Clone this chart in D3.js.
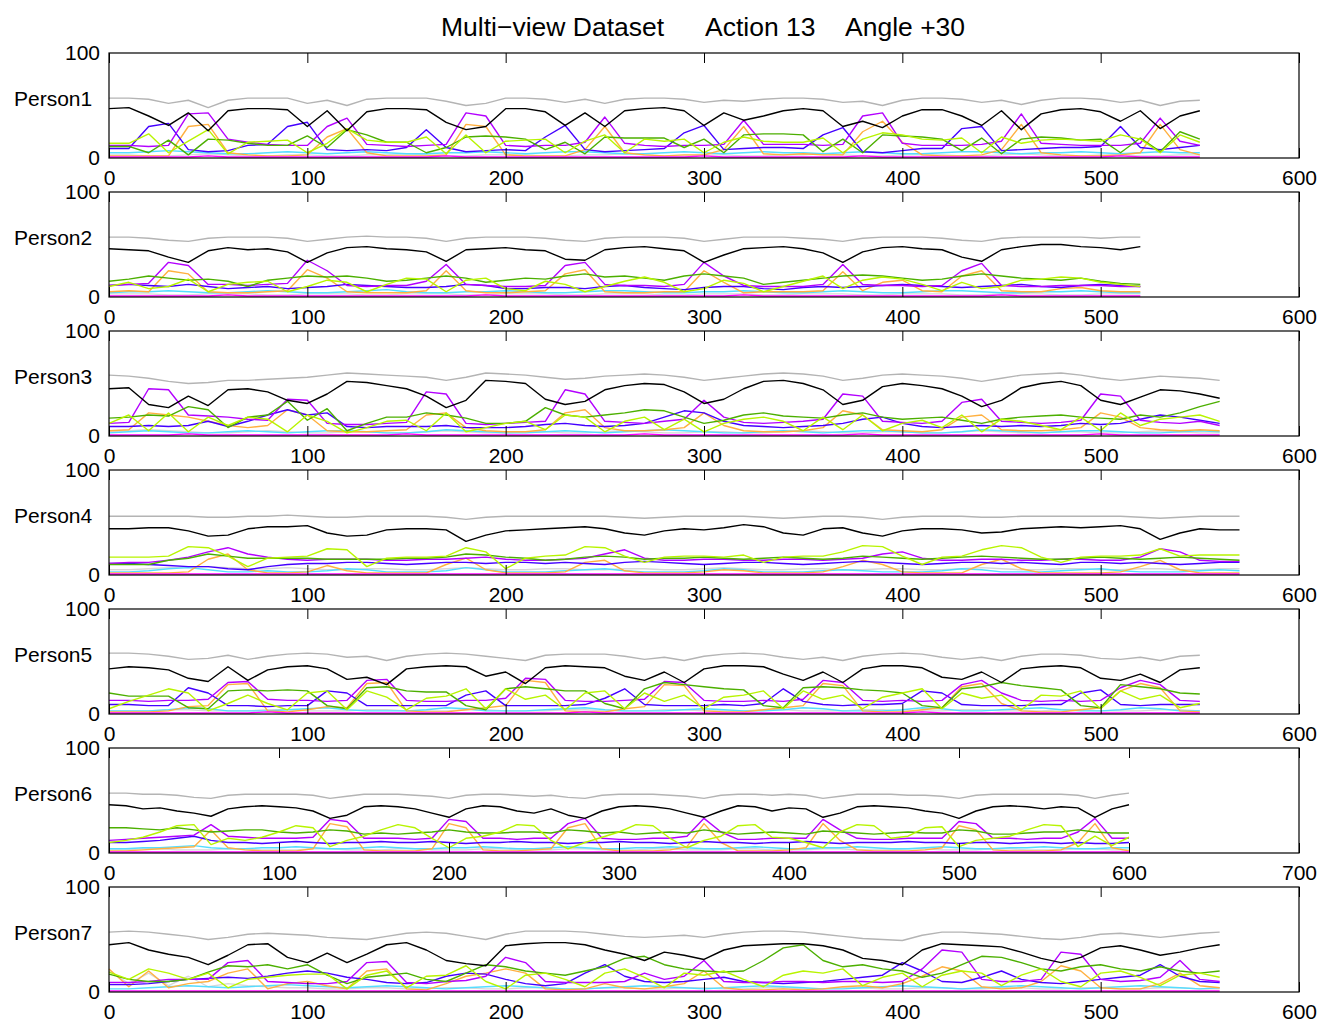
<!DOCTYPE html>
<html lang="en">
<head>
<meta charset="utf-8">
<title>Multi-view Dataset Action 13 Angle +30</title>
<script src="https://cdn.jsdelivr.net/npm/d3@7"></script>
<style>
  body { margin: 0; background: #fff; }
  svg { display: block; }
  text { font-family: "Liberation Sans", Arial, Helvetica, sans-serif; fill: #000; }
  .tick text { font-size: 21px; }
  .tick line { stroke: #000; }
</style>
</head>
<body>
<script>
// ---------- data (one row per person, one value every 10 frames) ----------
const persons = ["Person1", "Person2", "Person3", "Person4", "Person5", "Person6", "Person7"];
const xMax = [600, 600, 600, 600, 600, 700, 600];
const yTicks = [0, 100];
const frameStep = 10;
const titleParts = ["Multi\u2212view Dataset", "Action 13", "Angle +30"];

const grayLine = [
  [57,57,56,52,55,48,55,57,57,57,52,55,50,56,57,57,57,54,50,52,57,57,56,53,56,52,56,57,57,56,53,55,54,56,57,57,56,53,54,50,55,57,57,56,53,55,51,55,57,57,56,53,55,50,54,55],
  [57,57,56,54,53,56,57,57,57,56,53,55,57,58,57,57,56,53,56,57,57,57,56,54,53,56,57,57,57,56,53,55,57,57,57,56,55,53,56,57,57,57,56,54,53,56,57,57,57,57,56,57,57],
  [58,57,55,52,50,51,53,53,54,55,56,58,60,59,58,57,56,53,56,60,59,58,56,54,55,57,58,59,58,56,53,55,57,59,60,59,57,53,55,58,59,58,57,55,52,55,58,59,60,58,55,53,55,57,56,55,53],
  [56,56,56,56,56,55,55,56,56,57,56,55,55,56,56,56,56,55,53,55,56,56,56,56,56,56,55,54,55,56,56,56,56,55,54,55,56,56,55,53,55,56,56,56,55,55,56,56,56,56,56,56,55,54,55,56,56,56],
  [58,58,57,55,52,53,56,52,55,57,58,57,54,55,51,55,57,58,57,55,53,51,56,57,57,57,55,52,54,51,55,57,58,57,54,52,54,51,55,57,58,57,54,52,54,51,55,57,57,56,53,52,54,51,55,56],
  [57,57,56,56,55,53,52,55,56,56,56,56,55,52,54,56,56,56,55,54,52,55,56,56,55,54,55,53,52,55,56,56,56,55,54,52,55,56,56,55,56,55,52,54,56,56,56,55,55,54,52,55,56,56,56,56,56,55,52,55,57],
  [57,58,57,55,53,50,52,55,56,55,54,52,51,50,53,56,57,56,53,50,55,58,58,58,57,55,53,52,53,54,52,55,57,58,58,57,55,53,51,50,49,54,57,57,56,55,53,51,50,52,55,56,54,52,54,56,57]
];

const blackLine = [
  [47,48,40,31,43,26,45,47,47,46,30,45,26,44,47,47,46,34,27,30,47,47,44,31,43,30,45,47,48,45,31,43,36,40,45,47,45,30,35,29,40,46,46,40,31,45,27,42,46,47,44,35,45,28,40,45],
  [46,45,44,38,33,44,47,45,46,43,33,42,47,48,46,45,43,34,45,46,47,45,44,36,35,45,47,48,46,44,33,40,46,47,48,46,42,33,43,47,48,46,45,38,34,45,48,50,50,48,47,45,48],
  [45,46,30,27,38,29,44,45,42,34,31,40,52,51,48,45,38,27,34,53,52,50,35,30,33,44,48,50,49,42,31,35,45,52,53,50,44,30,34,47,50,48,45,38,28,34,46,50,52,48,34,30,37,44,43,40,36],
  [44,44,45,45,42,37,38,44,46,46,47,40,37,38,43,44,44,43,32,38,42,43,44,45,46,44,40,38,42,44,43,45,48,46,40,38,44,45,40,37,42,44,44,43,40,41,44,45,46,45,46,47,44,34,40,44,43,43],
  [43,45,44,42,34,31,45,32,42,45,46,43,33,35,28,43,45,46,45,36,40,29,44,46,45,44,36,32,40,30,43,46,46,45,38,32,40,30,43,46,46,44,35,33,40,30,43,45,46,44,34,32,38,30,42,44],
  [46,45,42,43,40,38,35,42,44,45,44,43,40,33,36,44,45,44,42,38,34,42,45,44,40,38,42,36,33,40,44,45,44,42,38,34,40,45,44,40,43,42,34,38,44,45,44,43,40,38,33,40,44,45,44,42,44,43,34,42,46],
  [45,47,40,36,33,26,35,45,46,33,28,37,28,36,45,47,40,30,27,25,44,46,47,47,45,40,36,30,38,35,31,40,44,45,46,46,44,40,32,30,26,40,46,45,44,43,38,32,28,33,42,44,40,35,38,42,45]
];

const purpleLine = [
  [12,12,11,12,42,43,18,15,13,12,12,30,38,13,12,11,12,13,43,40,12,11,12,12,15,39,14,12,11,12,12,13,36,13,13,13,12,13,40,43,14,12,12,12,13,16,42,14,13,12,12,12,14,38,16,12],
  [11,12,13,33,30,12,12,11,12,13,35,25,11,10,11,11,15,31,12,11,10,10,11,30,33,12,11,11,10,12,33,20,11,10,10,10,12,31,12,11,11,10,11,25,32,11,10,10,11,11,11,10,10],
  [12,13,45,44,20,19,18,16,15,35,34,12,11,11,12,13,42,40,12,11,12,13,14,44,40,14,13,12,14,16,34,18,13,12,13,14,16,40,38,14,13,12,14,32,35,14,13,12,13,15,40,38,15,13,12,14,10],
  [11,12,12,14,17,22,26,20,17,15,14,15,15,15,14,14,15,15,16,17,15,14,14,15,16,20,24,16,14,14,15,15,14,14,15,15,14,15,16,20,22,16,14,14,15,15,14,14,15,15,14,14,17,25,22,14,13,13],
  [13,13,12,13,13,14,30,31,14,13,13,12,13,32,33,13,12,12,13,13,15,34,33,13,12,12,13,14,31,30,13,12,12,13,12,14,32,30,13,12,13,12,13,28,32,20,13,12,13,12,13,25,32,28,13,12],
  [12,13,14,15,16,17,27,16,15,14,14,14,15,32,30,14,14,14,13,14,32,30,14,14,13,14,14,28,33,14,13,13,14,14,16,33,20,13,13,14,14,14,32,22,14,13,13,14,14,14,30,28,14,14,13,14,14,20,33,14,14],
  [9,9,10,12,12,12,28,30,10,9,8,8,10,28,29,9,8,10,11,15,33,28,10,9,9,9,10,18,12,15,30,10,9,9,10,10,9,10,10,9,10,22,40,38,12,10,10,12,38,36,12,10,11,14,30,12,10]
];

const blueLine = [
  [9,9,30,33,8,6,7,12,13,30,34,8,7,8,7,10,27,10,6,7,8,7,20,31,8,6,7,8,9,24,31,8,9,10,10,9,22,29,6,5,7,9,9,28,30,7,8,9,10,10,11,30,10,8,10,12],
  [11,12,11,10,12,10,8,9,10,8,9,10,12,11,10,9,9,10,12,11,8,8,9,9,8,10,11,9,8,7,9,10,10,8,7,9,10,9,10,11,12,11,10,9,10,11,12,10,9,11,12,11,10],
  [9,9,10,9,10,14,9,14,20,25,20,22,9,8,9,9,9,10,8,8,8,9,11,12,10,9,10,12,18,24,22,14,10,9,8,9,10,12,16,18,12,9,8,9,10,9,10,9,10,12,11,12,16,20,18,15,12],
  [11,11,10,9,8,8,6,5,8,10,11,11,12,12,11,10,11,12,12,11,12,12,11,12,11,10,12,13,12,11,10,11,12,12,11,10,11,12,13,12,11,10,11,12,12,11,12,11,10,12,12,11,12,11,10,11,12,12],
  [9,9,8,8,25,20,8,8,7,8,8,22,20,8,8,8,8,8,18,22,8,8,8,8,9,15,24,9,8,8,8,9,8,10,24,12,9,8,9,9,10,22,20,9,8,8,8,9,9,20,23,9,8,9,9,9],
  [10,10,11,12,14,16,12,10,10,9,10,11,10,9,10,10,11,10,10,11,10,9,10,10,11,10,10,9,10,10,11,10,10,9,10,11,10,10,9,10,10,11,10,9,10,10,10,11,10,10,9,10,10,9,10,10,9,10,9,9,10],
  [7,7,8,10,12,13,14,13,15,18,20,18,14,12,9,8,9,15,18,17,12,8,6,8,18,26,15,10,9,10,12,14,10,9,8,9,10,12,14,16,28,20,10,9,14,20,12,9,8,10,12,14,16,26,15,10,9]
];

const orangeLine = [
  [2,2,2,2,30,32,5,3,2,2,3,20,28,5,2,2,2,3,32,30,3,2,2,2,8,30,5,3,2,3,3,8,30,4,3,4,3,3,25,35,15,3,2,2,3,8,32,5,3,2,2,3,5,32,8,3],
  [5,6,5,25,22,5,4,4,5,6,26,18,5,4,4,4,6,25,6,4,4,5,6,22,26,5,4,4,5,5,25,14,4,5,5,5,6,24,6,14,16,6,5,20,25,6,5,5,8,9,6,5,5],
  [5,6,22,20,18,14,10,8,10,25,20,5,4,4,5,6,20,22,8,5,4,4,6,22,25,8,5,5,6,8,22,10,5,4,4,5,8,24,20,6,5,4,6,18,20,6,5,5,6,8,22,18,8,6,5,6,5],
  [2,2,2,2,3,15,20,5,2,2,3,9,4,2,2,2,2,10,16,5,2,2,2,3,12,14,4,2,2,2,3,5,4,2,2,2,3,8,14,10,3,2,2,2,10,15,6,2,2,2,2,3,8,14,5,2,2,2],
  [2,2,2,3,7,8,28,29,3,2,4,7,6,29,30,3,2,2,4,6,8,32,30,3,2,2,5,7,28,27,3,2,2,4,6,8,29,27,3,2,2,4,6,26,29,10,3,2,2,4,6,22,29,25,3,2],
  [2,2,3,4,5,6,22,5,3,2,2,2,4,28,25,3,2,2,2,4,28,24,3,2,2,3,4,24,28,4,2,2,2,3,6,28,10,2,2,2,3,5,28,12,3,2,2,2,3,5,26,22,3,2,2,2,3,10,28,5,2],
  [22,5,20,4,8,10,18,22,3,8,10,6,3,20,22,3,2,8,15,18,22,18,3,2,3,8,4,3,5,8,20,4,2,2,3,2,3,5,6,4,8,15,24,20,5,3,4,10,25,20,4,3,3,8,18,6,4]
];

const greenLine = [
  [11,11,5,17,3,18,17,14,12,12,21,10,27,22,15,15,5,10,20,21,20,18,8,15,4,20,19,19,19,10,18,5,22,23,23,22,6,18,5,22,21,20,18,7,19,4,18,20,19,17,18,5,19,6,25,18],
  [15,17,20,18,16,17,15,10,16,18,20,19,20,18,15,16,18,20,18,14,16,18,17,20,22,19,20,18,16,20,22,20,18,12,14,16,18,20,21,20,18,16,17,20,22,20,18,17,16,18,15,13,12],
  [17,18,20,19,28,25,8,18,20,33,15,26,5,12,18,18,22,20,17,12,12,14,27,20,18,20,22,25,24,18,12,15,20,22,19,18,17,20,22,18,16,17,18,15,12,16,18,19,20,18,17,16,20,18,22,28,33],
  [10,10,10,14,16,20,18,16,16,16,16,15,15,15,15,16,16,17,20,19,17,16,14,15,17,18,17,15,16,16,17,16,15,16,17,16,15,16,18,17,16,15,16,17,18,17,16,15,15,16,17,16,15,16,17,16,15,14],
  [20,17,17,17,6,5,22,23,22,23,22,8,5,25,26,22,21,21,8,4,24,26,24,22,22,10,5,24,30,28,26,24,23,8,6,25,26,25,23,22,20,8,6,24,26,30,27,25,23,8,6,28,26,24,20,19],
  [24,24,23,22,24,22,20,21,22,22,20,19,20,22,21,18,19,18,19,20,22,20,19,19,20,20,19,22,21,19,20,18,19,20,19,22,20,18,19,20,19,18,21,20,19,18,19,20,19,19,22,21,18,18,19,20,20,22,20,19,19],
  [17,12,10,10,12,19,25,24,26,22,26,16,8,14,16,18,12,10,18,26,24,20,18,16,20,24,32,34,26,22,20,19,20,30,42,45,30,24,26,22,20,14,18,26,34,33,28,22,20,24,26,22,20,24,20,18,20]
];

const limeLine = [
  [14,14,23,5,16,27,4,15,16,17,5,14,28,17,15,15,20,4,22,5,16,17,18,5,16,22,5,18,16,18,5,15,20,16,15,15,19,5,18,24,22,18,17,19,5,20,14,17,18,17,16,22,18,5,22,15],
  [10,14,8,10,17,5,12,14,15,5,10,16,14,5,12,18,17,5,16,18,8,6,15,12,5,10,15,19,14,5,8,16,13,5,10,15,20,8,16,19,17,12,6,14,8,10,16,17,19,18,14,12,10],
  [12,20,5,22,4,18,10,18,16,4,20,14,3,8,14,15,5,22,4,8,12,14,6,20,18,4,14,18,6,16,4,12,16,18,14,5,18,6,20,5,12,15,8,20,4,16,14,10,6,18,5,22,10,16,18,20,14],
  [17,17,17,18,27,26,18,8,16,17,18,25,24,8,16,17,17,18,26,22,6,16,18,19,27,26,18,12,17,18,18,17,19,12,17,18,18,22,28,27,18,10,17,18,24,28,26,17,12,17,18,18,19,25,18,19,19,19],
  [5,12,18,24,20,3,10,18,10,4,20,22,4,22,16,4,15,17,24,5,24,14,18,4,20,22,5,20,12,18,5,16,18,22,5,22,14,18,5,16,20,24,5,20,15,18,4,18,17,22,5,22,14,18,6,10],
  [10,12,15,20,26,27,8,14,12,15,20,26,24,6,12,16,22,27,24,14,5,14,16,20,27,26,12,4,10,15,20,27,26,14,5,12,16,26,27,15,14,10,5,20,27,26,14,16,24,25,6,12,14,16,22,27,26,6,16,7,15],
  [19,12,22,18,12,18,4,12,14,16,17,17,3,16,20,4,15,16,25,10,3,16,18,12,5,18,22,14,4,18,16,20,12,5,16,20,18,22,6,14,18,5,16,20,18,6,16,22,10,5,18,20,14,6,16,18,14]
];

const cyanLine = [
  [5,5,6,7,6,5,4,4,5,6,5,4,5,6,5,4,4,5,5,6,5,4,5,6,6,5,4,4,5,6,5,4,5,6,5,5,4,5,6,5,4,4,5,6,6,5,4,5,5,6,5,4,5,6,5,5],
  [4,5,5,6,5,4,4,5,6,5,4,4,5,6,7,5,4,4,5,5,6,5,4,4,5,6,6,5,4,4,5,5,6,5,4,4,5,6,5,4,4,5,6,6,5,4,4,5,5,6,5,4,4],
  [3,4,5,4,3,3,4,5,4,3,4,5,5,4,3,3,4,6,5,4,3,3,4,5,4,3,4,5,6,5,4,3,3,4,5,4,3,4,5,5,4,3,3,4,6,5,4,3,4,5,5,4,3,3,4,5,4],
  [3,3,4,6,7,5,3,3,4,3,3,4,6,5,3,3,3,4,7,5,3,3,3,4,5,6,4,3,3,3,4,6,5,3,3,3,4,5,4,3,3,3,4,6,5,3,3,3,4,5,6,4,3,3,3,4,5,4],
  [3,3,3,4,6,5,3,3,3,4,5,6,4,3,3,3,4,6,5,3,3,3,4,5,6,4,3,3,3,4,5,4,3,3,4,6,5,3,3,3,4,6,5,3,3,4,5,6,4,3,3,4,6,5,3,3],
  [4,4,5,5,6,7,5,4,4,5,5,6,5,4,4,5,6,5,4,4,5,5,6,5,4,4,5,6,5,4,4,5,5,6,5,4,4,5,6,5,4,4,5,5,6,5,4,4,5,6,5,4,4,5,5,6,5,4,4,5,5],
  [3,3,4,5,6,5,4,5,6,7,6,5,4,5,6,5,4,3,4,5,6,5,4,3,3,4,5,6,5,4,3,4,5,6,5,4,3,3,4,5,6,5,4,3,4,5,6,5,4,3,4,5,6,5,4,3,4]
];

const magentaLine = [
  [1,1,1,1,1,2,1,1,1,1,1,1,1,1,1,1,1,2,1,1,1,1,1,1,1,1,1,1,1,1,2,1,1,1,1,1,1,1,2,1,1,1,1,1,1,1,1,1,1,1,1,2,1,1,1,1],
  [1,1,1,1,1,1,2,1,1,1,1,1,1,1,1,1,1,1,1,2,1,1,1,1,1,1,1,1,1,1,1,1,2,1,1,1,1,1,1,1,1,1,1,1,1,2,1,1,1,1,1,1,1],
  [1,1,1,1,2,1,1,1,1,1,1,1,1,1,1,2,1,1,1,1,1,1,1,1,1,1,1,2,1,1,1,1,1,1,1,1,1,1,2,1,1,1,1,1,1,1,1,1,1,1,2,1,1,1,1,1,1],
  [1,1,1,1,1,1,1,1,1,1,1,1,1,1,1,1,1,1,1,1,1,1,1,1,1,1,1,1,1,1,1,1,1,1,1,1,1,1,1,1,1,1,1,1,1,1,1,1,1,1,1,1,1,1,1,1,1,1],
  [1,1,1,1,1,1,1,1,2,1,1,1,1,1,1,1,1,1,1,1,1,1,1,1,2,1,1,1,1,1,1,1,1,1,1,1,1,1,1,1,1,2,1,1,1,1,1,1,1,1,1,1,1,1,1,1],
  [1,1,1,1,1,1,1,1,1,1,1,1,1,1,1,1,1,1,1,1,1,1,1,1,1,1,1,1,1,1,1,1,1,1,1,1,1,1,1,1,1,1,1,1,1,1,1,1,1,1,1,1,1,1,1,1,1,1,1,1,1],
  [1,1,1,1,1,1,1,1,1,1,1,1,1,1,1,1,1,1,1,1,1,1,1,1,1,1,1,1,1,1,1,1,1,1,1,1,1,1,1,1,1,1,1,1,1,1,1,1,1,1,1,1,1,1,1,1,1]
];

const silverLine = [
  [3,3,2,2,3,4,3,2,2,3,3,2,2,3,3,4,3,2,2,3,3,3,2,2,3,3,4,3,2,2,3,3,2,2,3,3,4,3,2,2,3,3,3,2,2,3,4,3,2,2,3,3,2,2,3,3],
  [3,3,3,2,2,3,3,3,2,2,3,3,3,2,2,3,3,3,2,2,3,3,3,2,2,3,3,3,2,2,3,3,3,2,2,3,3,3,2,2,3,3,3,2,2,3,3,3,2,2,3,3,3],
  [4,5,6,5,4,3,3,4,5,4,3,3,4,4,3,3,4,5,4,3,3,4,4,3,3,4,5,4,3,3,4,4,3,3,4,5,4,3,3,4,4,3,3,4,5,4,3,3,4,4,3,3,4,5,4,3,3],
  [5,5,6,7,7,8,7,6,6,7,6,5,5,6,6,5,5,6,7,6,5,5,6,6,5,5,6,6,5,5,6,7,6,5,5,6,6,5,5,6,6,5,5,6,7,6,5,5,6,6,5,5,6,6,5,5,6,6],
  [3,3,3,4,4,3,3,3,4,4,3,3,3,4,4,3,3,3,4,4,3,3,3,4,4,3,3,3,4,4,3,3,3,4,4,3,3,3,4,4,3,3,3,4,4,3,3,3,4,4,3,3,3,4,4,3],
  [3,3,4,4,3,3,3,4,4,3,3,3,4,4,3,3,3,4,4,3,3,3,4,4,3,3,3,4,4,3,3,3,4,4,3,3,3,4,4,3,3,3,4,4,3,3,3,4,4,3,3,3,4,4,3,3,3,4,4,3,3],
  [20,8,18,6,15,5,8,6,5,4,4,3,3,4,4,3,3,4,4,3,3,4,4,3,3,4,4,3,3,4,4,3,3,4,4,3,3,4,4,3,3,4,4,3,3,4,4,3,3,4,4,3,3,4,4,3,3]
];

// drawing order: first drawn ends up underneath
const seriesList = [
  { data: silverLine,  color: "#d8d8d8" },
  { data: cyanLine,    color: "#55ddff" },
  { data: orangeLine,  color: "#ffb040" },
  { data: blueLine,    color: "#4400ff" },
  { data: purpleLine,  color: "#b300ff" },
  { data: greenLine,   color: "#4caf00" },
  { data: limeLine,    color: "#b8f400" },
  { data: magentaLine, color: "#ff00ff" },
  { data: blackLine,   color: "#000000" },
  { data: grayLine,    color: "#b4b4b4" }
];

// ---------- layout ----------
const W = 1326, H = 1032;
const left = 109, right = 1299;
const firstTop = 53, panelGap = 139, panelH = 105;

const svg = d3.select("body").append("svg")
    .attr("width", W)
    .attr("height", H)
    .style("background-color", "white");

// title, three pieces placed like the original spacing
const titleX = [441, 705, 845];
svg.selectAll("text.title")
    .data(titleParts)
    .enter()
    .append("text")
    .attr("class", "title")
    .attr("x", (d, i) => titleX[i])
    .attr("y", 36)
    .attr("font-size", 26.5)
    .text(d => d);

persons.forEach(function (name, p) {
    let top = firstTop + p * panelGap;
    let g = svg.append("g").attr("transform", "translate(0," + top + ")");

    let x = d3.scaleLinear().domain([0, xMax[p]]).range([left, right]);
    let y = d3.scaleLinear().domain([0, 100]).range([panelH, 0]);
    let xTicks = d3.range(0, xMax[p] + 1, 100);

    let line = d3.line()
        .x((d, i) => x(i * frameStep))
        .y(d => y(d));

    // the data lines
    seriesList.forEach(function (s) {
        g.append("path")
            .attr("d", line(s.data[p]))
            .attr("fill", "none")
            .attr("stroke", s.color)
            .attr("stroke-width", 1.4)
            .attr("stroke-linejoin", "round");
    });

    // bottom axis, ticks pointing inwards
    g.append("g")
        .attr("transform", "translate(0," + panelH + ")")
        .call(d3.axisBottom(x).tickValues(xTicks).tickSize(-10).tickPadding(12))
        .call(a => a.select(".domain").remove());

    // top axis, ticks only
    g.append("g")
        .call(d3.axisTop(x).tickValues(xTicks).tickSize(-10).tickFormat(""))
        .call(a => a.select(".domain").remove());

    // y labels 0 and 100
    g.append("g")
        .attr("transform", "translate(" + left + ",0)")
        .call(d3.axisLeft(y).tickValues(yTicks).tickSize(0).tickPadding(9))
        .call(a => a.select(".domain").remove());

    // box
    g.append("rect")
        .attr("x", left)
        .attr("y", 0)
        .attr("width", right - left)
        .attr("height", panelH)
        .attr("fill", "none")
        .attr("stroke", "black")
        .attr("stroke-width", 1.2);

    // person label
    g.append("text")
        .attr("x", 14)
        .attr("y", 53)
        .attr("font-size", 21)
        .text(name);
});
</script>
</body>
</html>
